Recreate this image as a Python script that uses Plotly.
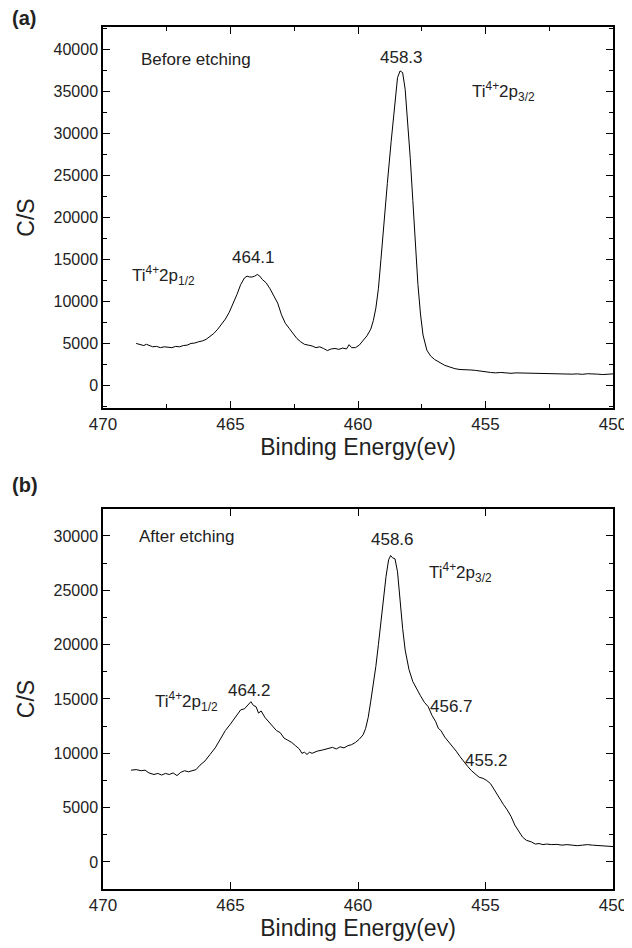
import plotly.graph_objects as go

# ---- data: panel (a) before etching ----
energy_a = [468.7, 468.55, 468.4, 468.3, 468.2, 468.05, 467.9, 467.75, 467.6, 467.45, 467.3, 467.15,
            467.0, 466.85, 466.7, 466.55, 466.4, 466.25, 466.1, 465.95, 465.8, 465.65, 465.5, 465.35,
            465.2, 465.05, 464.9, 464.75, 464.6, 464.45, 464.35, 464.25, 464.15, 464.05, 463.95, 463.85,
            463.75, 463.6, 463.45, 463.3, 463.15, 463.0, 462.85, 462.7, 462.55, 462.4, 462.25, 462.1,
            461.95, 461.8, 461.65, 461.5, 461.35, 461.2, 461.05, 460.9, 460.75, 460.6, 460.45, 460.35,
            460.25, 460.1, 459.95, 459.8, 459.65, 459.5, 459.4, 459.3, 459.2, 459.1, 459.0, 458.85,
            458.7, 458.55, 458.45, 458.35, 458.25, 458.15, 458.05, 457.95, 457.85, 457.75, 457.65, 457.55,
            457.45, 457.3, 457.15, 457.0, 456.8, 456.6, 456.4, 456.2, 456.0, 455.8, 455.6, 455.4,
            455.2, 455.0, 454.8, 454.6, 454.4, 454.2, 454.0, 453.8, 453.6, 453.4, 453.2, 453.0,
            452.8, 452.6, 452.4, 452.2, 452.0, 451.8, 451.6, 451.4, 451.2, 451.0, 450.8, 450.6,
            450.4, 450.2, 450.0]
counts_a = [5000, 4850, 4750, 4900, 4750, 4600, 4650, 4500, 4600, 4550, 4500, 4650,
            4600, 4750, 4800, 5000, 5050, 5200, 5300, 5500, 5800, 6200, 6700, 7300,
            7900, 8700, 9700, 10800, 12000, 12800, 13000, 12900, 12900, 13000, 13200, 13000,
            12600, 12200, 11500, 10700, 9800, 8400, 7400, 6800, 6200, 5600, 5200, 4900,
            4800, 4700, 4500, 4600, 4400, 4150, 4350, 4400, 4300, 4450, 4350, 4850,
            4500, 4500, 4800, 5300, 5900, 6700, 7700, 9200, 11500, 15000, 19000, 24000,
            29000, 34000, 36600, 37400, 37200, 35200, 31500, 27000, 22000, 16500, 12000, 8500,
            6000, 4200, 3500, 3100, 2700, 2400, 2200, 2000, 1900, 1900, 1850, 1800,
            1700, 1650, 1550, 1500, 1550, 1500, 1450, 1500, 1480, 1500, 1420, 1450,
            1380, 1400, 1350, 1400, 1320, 1300, 1350, 1380, 1330, 1400, 1400, 1350,
            1300, 1320, 1380]

# ---- data: panel (b) after etching ----
energy_b = [468.9, 468.7, 468.5, 468.35, 468.2, 468.0, 467.85, 467.7, 467.55, 467.4, 467.25, 467.1,
            466.95, 466.8, 466.65, 466.5, 466.35, 466.2, 466.0, 465.8, 465.6, 465.4, 465.2, 465.0,
            464.8, 464.6, 464.45, 464.3, 464.2, 464.1, 464.0, 463.9, 463.8, 463.65, 463.5, 463.35,
            463.2, 463.05, 462.9, 462.75, 462.6, 462.45, 462.3, 462.2, 462.1, 462.0, 461.9, 461.8,
            461.6, 461.4, 461.2, 461.0, 460.85, 460.7, 460.55, 460.4, 460.25, 460.1, 459.95, 459.8,
            459.7, 459.6, 459.5, 459.4, 459.3, 459.2, 459.1, 459.0, 458.9, 458.8, 458.72, 458.65,
            458.55, 458.45, 458.35, 458.25, 458.15, 458.0, 457.85, 457.7, 457.55, 457.4, 457.25, 457.1,
            456.95, 456.85, 456.75, 456.6, 456.45, 456.3, 456.15, 456.0, 455.85, 455.7, 455.55, 455.4,
            455.25, 455.1, 454.95, 454.8, 454.65, 454.5, 454.4, 454.3, 454.15, 454.0, 453.85, 453.7,
            453.55, 453.4, 453.2, 453.05, 452.9, 452.75, 452.6, 452.4, 452.2, 452.0, 451.8, 451.6,
            451.4, 451.2, 451.0, 450.8, 450.6, 450.4, 450.2, 450.0]
counts_b = [8450, 8500, 8400, 8450, 8200, 8050, 8150, 8000, 8150, 8050, 8200, 7950,
            8250, 8400, 8300, 8400, 8500, 8900, 9300, 9900, 10500, 11300, 12100, 12700,
            13300, 14000, 14100, 14500, 14750, 14400, 14300, 13700, 13900, 13300, 12900, 12600,
            12100, 11900, 11400, 11200, 11000, 10700, 10400, 10000, 10100, 9900, 10100, 10000,
            10200, 10300, 10400, 10550, 10400, 10600, 10500, 10700, 10800, 11000, 11300, 11700,
            12300, 13300, 14800, 16300, 18000, 20000, 22200, 24300, 26300, 27800, 28200, 28000,
            27900, 26700, 24000, 21500, 19500, 17700, 16600, 15900, 15300, 14700, 14300, 13500,
            12900, 12300, 12100, 11500, 11100, 10600, 10200, 9700, 9200, 8800, 8400, 8100,
            7800, 7700, 7500, 7200, 6600, 6100, 5700, 5300, 4800, 4200, 3400, 2800,
            2300, 2000, 1850, 1650, 1700, 1600, 1650, 1600, 1620, 1550, 1600, 1550,
            1500, 1550, 1600, 1550, 1500, 1500, 1450, 1420]

x_ticks = [470, 465, 460, 455, 450]

fig = go.Figure()
fig.add_trace(go.Scatter(x=energy_a, y=counts_a, mode="lines",
                         line=dict(color="black", width=1), xaxis="x", yaxis="y",
                         showlegend=False, hoverinfo="skip"))
fig.add_trace(go.Scatter(x=energy_b, y=counts_b, mode="lines",
                         line=dict(color="black", width=1), xaxis="x2", yaxis="y2",
                         showlegend=False, hoverinfo="skip"))

FONT = "Liberation Sans, Arial, Helvetica, sans-serif"
ytickfont = dict(family=FONT, size=16, color="#222")
xtickfont = dict(family=FONT, size=17, color="#222")
titlefont = dict(family=FONT, size=23, color="#222")

def xax(anchor, minor=True):
    d = dict(anchor=anchor, domain=[0, 1], range=[470, 450], tickvals=x_ticks,
             ticks="inside", ticklen=7, tickwidth=1, tickcolor="black",
             showline=True, linecolor="black", linewidth=1.5, mirror="ticks",
             showgrid=False, zeroline=False, tickfont=xtickfont, automargin=False,
             title=dict(text="Binding Energy(ev)", font=titlefont, standoff=6))
    if minor:
        d["minor"] = dict(tickvals=[467.5, 462.5, 457.5, 452.5], ticks="inside",
                          ticklen=4, tickcolor="black", showgrid=False)
    return d

def yax(anchor, domain, rng, dtick):
    return dict(anchor=anchor, domain=domain, range=rng, dtick=dtick, tick0=0,
                tickformat="d", automargin=False,
                ticks="inside", ticklen=7, tickwidth=1, tickcolor="black",
                showline=True, linecolor="black", linewidth=1.5, mirror="ticks",
                showgrid=False, zeroline=False, tickfont=ytickfont,
                minor=dict(dtick=dtick / 2, ticks="inside", ticklen=4, tickcolor="black",
                           showgrid=False),
                title=dict(text="C/S", font=titlefont, standoff=12))

# the page body adds an 8 px offset, so the figure is 8 px smaller with shifted margins
fig.update_layout(
    width=624, height=940,
    margin=dict(l=95, r=19, t=19, b=59),
    paper_bgcolor="white", plot_bgcolor="white",
    font=dict(family=FONT, color="#222"),
    xaxis=xax("y", True),
    yaxis=yax("x", [0.558, 1.0], [-2675, 42620], 5000),
    xaxis2=xax("y2", False),
    yaxis2=yax("x2", [0.0, 0.4408], [-2485, 32480], 5000),
)

afont = dict(family=FONT, size=17, color="#222")
ann = []
ann.append(dict(text="<b>(a)</b>", xref="paper", yref="paper", x=-0.182, y=1.0104,
                xanchor="left", yanchor="middle", showarrow=False,
                font=dict(family=FONT, size=20, color="#222")))
ann.append(dict(text="<b>(b)</b>", xref="paper", yref="paper", x=-0.182, y=0.4687,
                xanchor="left", yanchor="middle", showarrow=False,
                font=dict(family=FONT, size=20, color="#222")))
# panel a
ann.append(dict(text="Before etching", xref="x", yref="y", x=468.6, y=38800,
                xanchor="left", yanchor="middle", showarrow=False, font=afont))
ann.append(dict(text="458.3", xref="x", yref="y", x=458.3, y=39000,
                xanchor="center", yanchor="middle", showarrow=False, font=afont))
ann.append(dict(text="Ti<sup>4+</sup>2p<sub>3/2</sub>", xref="x", yref="y", x=455.62, y=35000,
                xanchor="left", yanchor="middle", showarrow=False, font=afont))
ann.append(dict(text="464.1", xref="x", yref="y", x=464.08, y=15160,
                xanchor="center", yanchor="middle", showarrow=False, font=afont))
ann.append(dict(text="Ti<sup>4+</sup>2p<sub>1/2</sub>", xref="x", yref="y", x=468.94, y=13100,
                xanchor="left", yanchor="middle", showarrow=False, font=afont))
# panel b
ann.append(dict(text="After etching", xref="x2", yref="y2", x=468.67, y=29930,
                xanchor="left", yanchor="middle", showarrow=False, font=afont))
ann.append(dict(text="458.6", xref="x2", yref="y2", x=458.65, y=29700,
                xanchor="center", yanchor="middle", showarrow=False, font=afont))
ann.append(dict(text="Ti<sup>4+</sup>2p<sub>3/2</sub>", xref="x2", yref="y2", x=457.3, y=26600,
                xanchor="left", yanchor="middle", showarrow=False, font=afont))
ann.append(dict(text="Ti<sup>4+</sup>2p<sub>1/2</sub>", xref="x2", yref="y2", x=468.03, y=14800,
                xanchor="left", yanchor="middle", showarrow=False, font=afont))
ann.append(dict(text="464.2", xref="x2", yref="y2", x=464.27, y=15760,
                xanchor="center", yanchor="middle", showarrow=False, font=afont))
ann.append(dict(text="456.7", xref="x2", yref="y2", x=456.33, y=14290,
                xanchor="center", yanchor="middle", showarrow=False, font=afont))
ann.append(dict(text="455.2", xref="x2", yref="y2", x=454.98, y=9320,
                xanchor="center", yanchor="middle", showarrow=False, font=afont))
fig.update_layout(annotations=ann)

fig.write_html("out.html")
